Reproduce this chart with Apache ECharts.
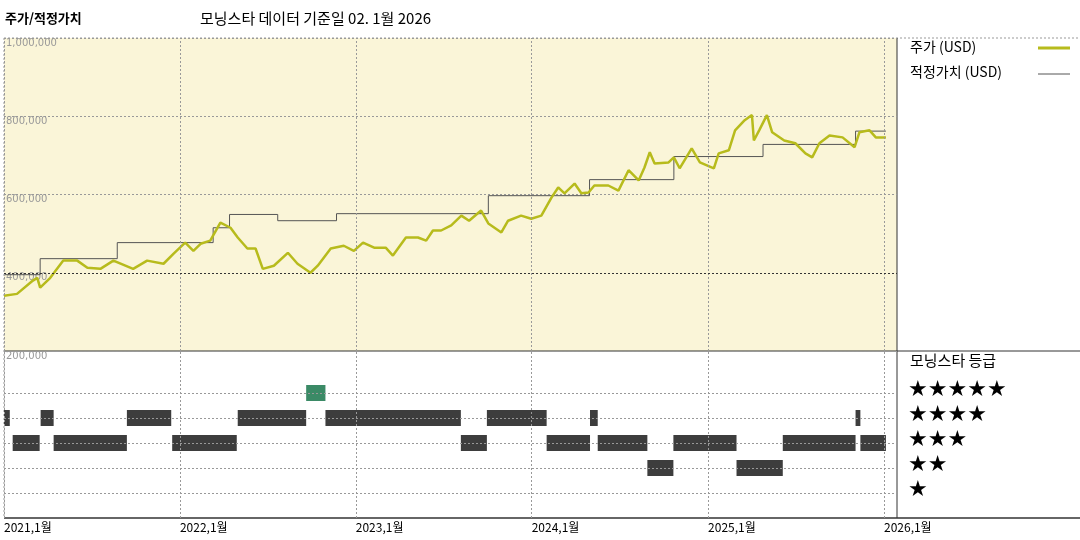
<!DOCTYPE html>
<html>
<head>
<meta charset="utf-8">
<script src="https://cdn.jsdelivr.net/npm/echarts@6/dist/echarts.min.js"></script>
<style>
  html, body { margin: 0; padding: 0; background: #fff; }
  #chart { width: 1080px; height: 540px; }
</style>
</head>
<body>
<div id="chart"></div>
<script>
// =====================
// Data
// =====================
const priceDates = [
  "2021-01-01","2021-01-28","2021-03-02","2021-03-11","2021-03-17","2021-04-07","2021-05-04","2021-06-02",
  "2021-06-23","2021-07-20","2021-08-16","2021-09-26","2021-10-25","2021-11-28","2021-12-19","2022-01-12",
  "2022-01-29","2022-02-13","2022-03-05","2022-03-26","2022-04-16","2022-05-01","2022-05-21","2022-06-07",
  "2022-06-22","2022-07-15","2022-08-13","2022-09-02","2022-09-29","2022-10-14","2022-11-10","2022-12-07",
  "2022-12-28","2023-01-16","2023-02-08","2023-03-04","2023-03-19","2023-04-15","2023-05-10","2023-05-27",
  "2023-06-10","2023-06-27","2023-07-18","2023-08-08","2023-08-24","2023-09-18","2023-10-03","2023-10-30",
  "2023-11-13","2023-12-10","2023-12-31","2024-01-21","2024-02-11","2024-02-25","2024-03-09","2024-03-30",
  "2024-04-13","2024-04-28","2024-05-10","2024-06-08","2024-06-29","2024-07-20","2024-08-10","2024-08-22",
  "2024-09-02","2024-09-12","2024-10-11","2024-10-22","2024-11-03","2024-11-28","2024-12-15","2025-01-13",
  "2025-01-23","2025-02-13","2025-02-26","2025-03-18","2025-04-02","2025-04-06","2025-04-17","2025-05-03",
  "2025-05-14","2025-06-08","2025-07-01","2025-07-22","2025-08-05","2025-08-20","2025-09-10","2025-10-07",
  "2025-11-01","2025-11-11","2025-12-02","2025-12-15","2026-01-05"
]
const priceValues = [
  341000,346000,380000,387000,362000,387000,431000,431000,
  413000,410000,431000,410000,431000,423000,449000,477000,
  456000,474000,482000,528000,515000,490000,462000,462000,
  410000,418000,451000,423000,400000,418000,462000,469000,
  456000,477000,464000,464000,444000,490000,490000,482000,
  508000,508000,521000,546000,533000,559000,526000,503000,
  533000,546000,538000,546000,592000,618000,603000,628000,
  603000,605000,623000,623000,610000,662000,636000,669000,
  708000,679000,682000,695000,667000,718000,682000,667000,
  705000,713000,764000,790000,803000,738000,764000,803000,
  759000,738000,731000,705000,695000,731000,751000,746000,
  721000,759000,764000,746000,746000
]

const fairDates = [
  "2021-01-01","2021-03-17","2021-08-24","2022-03-11","2022-04-14","2022-07-23",
  "2022-11-22","2023-10-03","2024-04-30","2024-10-22","2025-04-25","2025-11-03","2026-01-05"
]
const fairValues = [
  395000,436000,477000,515000,549000,533000,
  551000,597000,638000,697000,728000,762000,762000
]

// rating periods: start, end, stars
const ratingStart = [
  "2021-01-01","2021-01-19","2021-03-18","2021-04-14","2021-09-13","2021-12-16","2022-05-01","2022-09-20",
  "2022-10-30","2023-08-07","2023-09-30","2024-02-01","2024-05-01","2024-05-17","2024-08-28","2024-10-21",
  "2025-03-01","2025-06-05","2025-11-03","2025-11-13"
]
const ratingEnd = [
  "2021-01-13","2021-03-16","2021-04-14","2021-09-13","2021-12-14","2022-04-29","2022-09-20","2022-10-30",
  "2023-08-07","2023-09-30","2024-02-01","2024-05-01","2024-05-17","2024-08-28","2024-10-21","2025-03-01",
  "2025-06-05","2025-11-03","2025-11-13","2026-01-05"
]
const ratingStars = [
  4,3,4,3,4,3,4,5,
  4,3,4,3,4,3,2,3,
  2,3,4,3
]

const yearTicks = ["2021-01-01","2022-01-01","2023-01-01","2024-01-01","2025-01-01","2026-01-01"]

// =====================
// Chart
// =====================
const chart = echarts.init(document.getElementById("chart"))
const FONT = "'Noto Sans CJK KR', sans-serif"
const xMin = +new Date("2021-01-01")
const xMax = +new Date("2026-01-28")

const gridLineStyle = { color: "#999", type: [2, 2], width: 1 }

const yearLines = yearTicks.map(d => ({ xAxis: +new Date(d), lineStyle: gridLineStyle }))
const yearLabelLines = yearTicks.map(d => ({
  xAxis: +new Date(d),
  lineStyle: gridLineStyle,
  label: {
    show: true, position: "start", distance: 3,
    formatter: new Date(d).getFullYear() + ",1월",
    color: "#000", fontSize: 12, fontFamily: FONT, align: "left"
  }
}))

const option = {
  animation: false,
  textStyle: { fontFamily: FONT },
  grid: [
    { left: 4, right: 183, top: 38, height: 313, show: true, backgroundColor: "#faf5d8", borderWidth: 0 },
    { left: 4, right: 183, top: 351, height: 167, show: false }
  ],
  xAxis: [
    { type: "time", gridIndex: 0, min: xMin, max: xMax,
      axisLine: { show: false }, axisTick: { show: false }, axisLabel: { show: false }, splitLine: { show: false } },
    { type: "time", gridIndex: 1, min: xMin, max: xMax,
      axisLine: { show: false }, axisTick: { show: false }, axisLabel: { show: false }, splitLine: { show: false } }
  ],
  yAxis: [
    { type: "value", gridIndex: 0, min: 200000, max: 1000000, interval: 200000,
      axisLine: { show: false }, axisTick: { show: false },
      splitLine: { show: true, lineStyle: gridLineStyle },
      axisLabel: { inside: true, verticalAlign: "top", color: "#999", fontSize: 10, margin: 2,
        fontFamily: "'DejaVu Sans', sans-serif", showMinLabel: true, showMaxLabel: true } },
    { type: "value", gridIndex: 1, min: 0, max: 6.68,
      axisLine: { show: false }, axisTick: { show: false }, splitLine: { show: false }, axisLabel: { show: false } }
  ],
  series: [
    {
      name: "grid-upper", type: "line", xAxisIndex: 0, yAxisIndex: 0, data: [], silent: true,
      markLine: {
        symbol: "none", silent: true, label: { show: false },
        data: [...yearLines,
               { yAxis: 400000, lineStyle: { color: "#333", type: [2, 2], width: 1 } }]
      }
    },
    {
      name: "적정가치 (USD)", type: "line", step: "end", xAxisIndex: 0, yAxisIndex: 0,
      data: fairDates.map((d, i) => [d, fairValues[i]]),
      showSymbol: false, lineStyle: { color: "#555", width: 1 }
    },
    {
      name: "주가 (USD)", type: "line", xAxisIndex: 0, yAxisIndex: 0,
      data: priceDates.map((d, i) => [d, priceValues[i]]),
      showSymbol: false, lineStyle: { color: "#b7bb1c", width: 2.5 }
    },
    {
      name: "grid-lower", type: "line", xAxisIndex: 1, yAxisIndex: 1, data: [], silent: true,
      markLine: {
        symbol: "none", silent: true, label: { show: false }, lineStyle: gridLineStyle,
        data: [...yearLabelLines, ...[1, 2, 3, 4, 5].map(s => ({ yAxis: s }))]
      }
    },
    {
      name: "rating", type: "custom", xAxisIndex: 1, yAxisIndex: 1,
      data: ratingStars.map((s, i) => [+new Date(ratingStart[i]), +new Date(ratingEnd[i]), s]),
      renderItem: (params, api) => {
        const a = api.coord([api.value(0), api.value(2)])
        const b = api.coord([api.value(1), api.value(2)])
        const five = api.value(2) === 5
        return {
          type: "rect",
          shape: { x: a[0], y: a[1] - 8, width: Math.max(b[0] - a[0], 2), height: 16 },
          style: { fill: five ? "#3b8a66" : "#3d3d3d" }
        }
      }
    }
  ],
  graphic: [
    { type: "text", left: 5, top: 12, style: { text: "주가/적정가치", font: "bold 13px " + FONT, fill: "#000" } },
    { type: "text", left: 200, top: 11, style: { text: "모닝스타 데이터 기준일 02. 1월 2026", font: "15px " + FONT, fill: "#000" } },
    // frame lines
    { type: "line", shape: { x1: 4, y1: 38, x2: 1080, y2: 38 }, style: { stroke: "#999", lineDash: [2, 2] } },
    { type: "line", shape: { x1: 4, y1: 38, x2: 4, y2: 518 }, style: { stroke: "#999", lineDash: [2, 2] } },
    { type: "line", shape: { x1: 897, y1: 38, x2: 897, y2: 518 }, style: { stroke: "#333", lineWidth: 1 } },
    { type: "line", shape: { x1: 4, y1: 351, x2: 1080, y2: 351 }, style: { stroke: "#333", lineWidth: 1 } },
    { type: "line", shape: { x1: 4, y1: 518, x2: 1080, y2: 518 }, style: { stroke: "#333", lineWidth: 1.5 } },
    // legend
    { type: "text", left: 910, top: 40, style: { text: "주가 (USD)", font: "14px " + FONT, fill: "#000" } },
    { type: "line", shape: { x1: 1038, y1: 48, x2: 1070, y2: 48 }, style: { stroke: "#b7bb1c", lineWidth: 3 } },
    { type: "text", left: 910, top: 65, style: { text: "적정가치 (USD)", font: "14px " + FONT, fill: "#000" } },
    { type: "line", shape: { x1: 1038, y1: 74, x2: 1070, y2: 74 }, style: { stroke: "#555", lineWidth: 1 } },
    { type: "text", left: 910, top: 353, style: { text: "모닝스타 등급", font: "15px " + FONT, fill: "#000" } },
    ...[5, 4, 3, 2, 1].map((n, i) => ({
      type: "text", left: 908, top: 379 + i * 25,
      style: { text: "★".repeat(n), font: "22px 'DejaVu Sans', sans-serif", fill: "#000" }
    }))
  ]
}

chart.setOption(option)
</script>
</body>
</html>
